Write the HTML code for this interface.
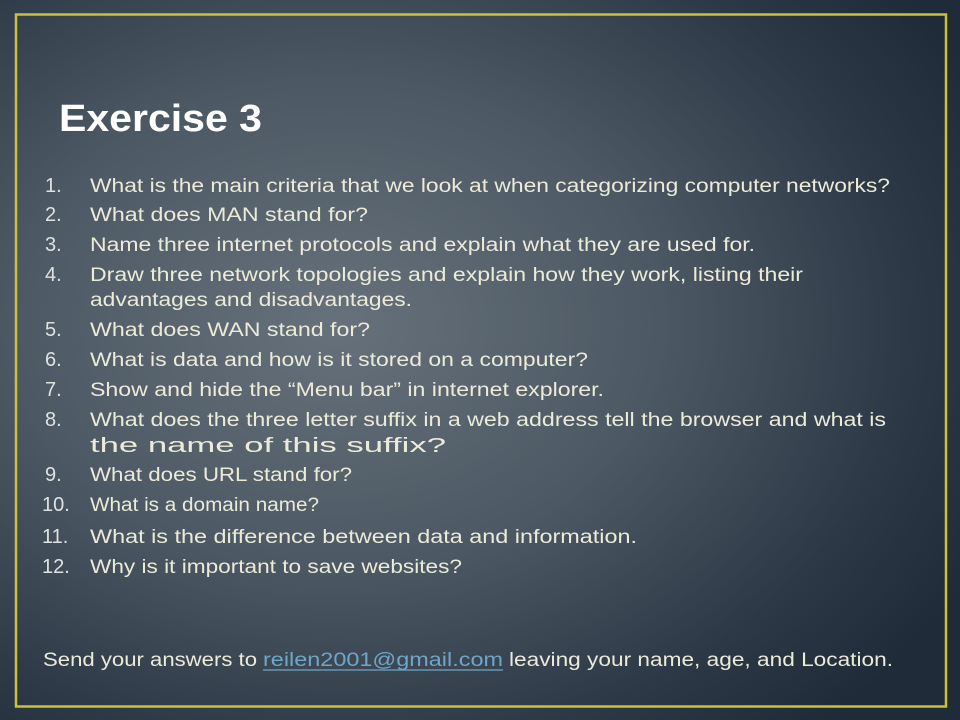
<!DOCTYPE html>
<html><head><meta charset="utf-8"><style>
html,body{margin:0;padding:0}
body{width:960px;height:720px;overflow:hidden;background:radial-gradient(ellipse 75% 75% at 35% 45%,#66717b 0%,#4c5863 45%,#2c3845 80%,#1f2b38 100%)}
svg{position:absolute;left:0;top:0}
text{font-family:"Liberation Sans",sans-serif;fill:#ecebd8}
.n{font-size:20px;fill:#dfe2e0}
</style></head><body>
<svg width="960" height="720" viewBox="0 0 960 720">
<rect x="16" y="14.5" width="930" height="692" fill="none" stroke="#c9c23a" stroke-width="2.5"/>
<text x="59" y="131" font-size="38" font-weight="bold" style="fill:#fff" textLength="203" lengthAdjust="spacingAndGlyphs">Exercise 3</text>
<g font-size="19">
<text class="n" x="45" y="192">1.</text><text x="90" y="192" textLength="800" lengthAdjust="spacingAndGlyphs">What is the main criteria that we look at when categorizing computer networks?</text>
<text class="n" x="45" y="221">2.</text><text x="90" y="221" textLength="278" lengthAdjust="spacingAndGlyphs">What does MAN stand for?</text>
<text class="n" x="45" y="251">3.</text><text x="90" y="251" textLength="665" lengthAdjust="spacingAndGlyphs">Name three internet protocols and explain what they are used for.</text>
<text class="n" x="45" y="281">4.</text><text x="90" y="281" textLength="713" lengthAdjust="spacingAndGlyphs">Draw three network topologies and explain how they work, listing their</text>
<text x="90" y="306" textLength="322" lengthAdjust="spacingAndGlyphs">advantages and disadvantages.</text>
<text class="n" x="45" y="336">5.</text><text x="90" y="336" textLength="280" lengthAdjust="spacingAndGlyphs">What does WAN stand for?</text>
<text class="n" x="45" y="366">6.</text><text x="90" y="366" textLength="498" lengthAdjust="spacingAndGlyphs">What is data and how is it stored on a computer?</text>
<text class="n" x="45" y="396">7.</text><text x="90" y="396" textLength="514" lengthAdjust="spacingAndGlyphs">Show and hide the “Menu bar” in internet explorer.</text>
<text class="n" x="45" y="426">8.</text><text x="90" y="426" textLength="796" lengthAdjust="spacingAndGlyphs">What does the three letter suffix in a web address tell the browser and what is</text>
<text x="90" y="452" font-size="20" textLength="356" lengthAdjust="spacingAndGlyphs">the name of this suffix?</text>
<text class="n" x="45" y="481">9.</text><text x="90" y="481" textLength="262" lengthAdjust="spacingAndGlyphs">What does URL stand for?</text>
<text class="n" x="42" y="511">10.</text><text x="90" y="511" textLength="229" lengthAdjust="spacingAndGlyphs">What is a domain name?</text>
<text class="n" x="42" y="543">11.</text><text x="90" y="543" textLength="547" lengthAdjust="spacingAndGlyphs">What is the difference between data and information.</text>
<text class="n" x="42" y="573">12.</text><text x="90" y="573" textLength="372" lengthAdjust="spacingAndGlyphs">Why is it important to save websites?</text>
<text x="43" y="666" textLength="214" lengthAdjust="spacingAndGlyphs">Send your answers to</text>
<text x="263" y="666" textLength="240" lengthAdjust="spacingAndGlyphs" style="fill:#6fa6c8">reilen2001@gmail.com</text>
<line x1="263" y1="670" x2="503" y2="670" stroke="#6fa6c8" stroke-width="1.2"/>
<text x="509" y="666" textLength="384" lengthAdjust="spacingAndGlyphs">leaving your name, age, and Location.</text>
</g>
</svg>
</body></html>
